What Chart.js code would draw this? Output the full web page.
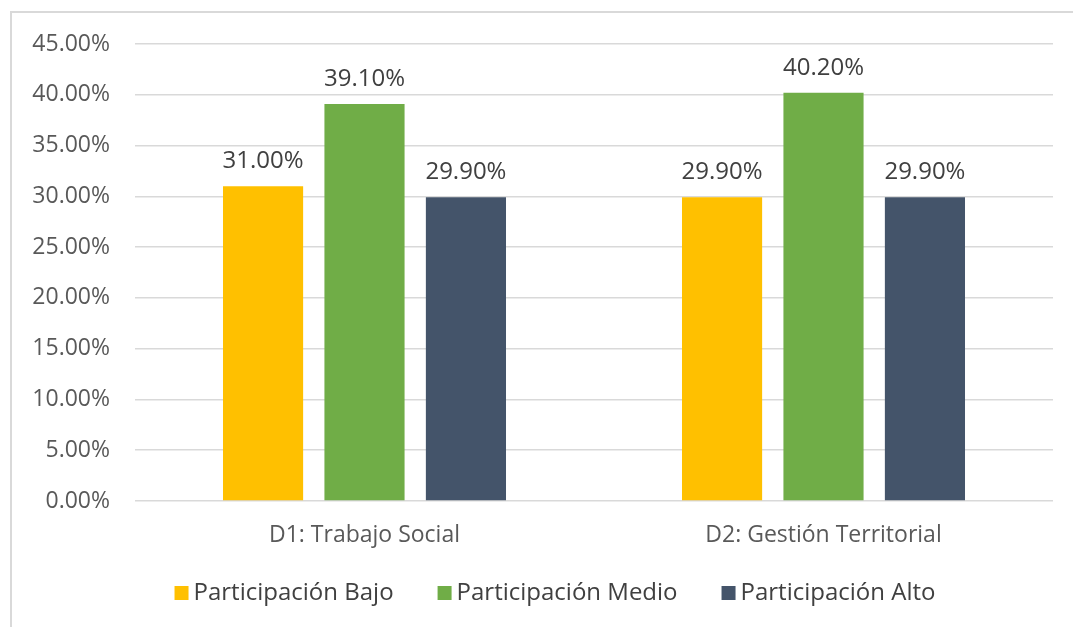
<!DOCTYPE html>
<html>
<head>
<meta charset="utf-8">
<script src="https://cdn.jsdelivr.net/npm/chart.js@4"></script>
<style>
  html, body { margin: 0; padding: 0; background: #fff; overflow: hidden; }
  #frame { position: absolute; left: 10px; top: 11px; width: 1100px; height: 700px;
           border-left: 2px solid #D9D9D9; border-top: 2px solid #D9D9D9; }
  #wrap { position: absolute; left: 0; top: 0; width: 1073px; height: 627px; }
</style>
</head>
<body>
<div id="frame"></div>
<div id="wrap"><canvas id="myChart" width="1073" height="627"></canvas></div>
<script>
var categories = ['D1: Trabajo Social', 'D2: Gestión Territorial'];
var seriesNames = ['Participación Bajo', 'Participación Medio', 'Participación Alto'];
var bajo = [31.0, 29.9];
var medio = [39.1, 40.2];
var alto = [29.9, 29.9];
var yTicks = [0, 5, 10, 15, 20, 25, 30, 35, 40, 45];
var colors = ['#FFC000', '#70AD47', '#44546A'];

var FONT = "'Open Sans', sans-serif";

// value labels above each bar
var barLabels = {
  id: 'barLabels',
  afterDatasetsDraw: function(chart) {
    var ctx = chart.ctx;
    ctx.save();
    ctx.font = '24px ' + FONT;
    ctx.fillStyle = '#404040';
    ctx.textAlign = 'center';
    ctx.textBaseline = 'middle';
    chart.data.datasets.forEach(function(ds, i) {
      chart.getDatasetMeta(i).data.forEach(function(bar, j) {
        ctx.fillText(ds.data[j].toFixed(2) + '%', bar.x, bar.y - 25);
      });
    });
    ctx.restore();
  }
};

// legend drawn like the Excel one (wide gaps between items)
var excelLegend = {
  id: 'excelLegend',
  afterDraw: function(chart) {
    var ctx = chart.ctx;
    var box = 14, gapText = 5, gapItem = 44;
    ctx.save();
    ctx.font = '24px ' + FONT;
    ctx.textBaseline = 'middle';
    var items = chart.data.datasets.map(function(ds) {
      return { label: ds.label, color: ds.backgroundColor, w: ctx.measureText(ds.label).width };
    });
    var total = 0;
    items.forEach(function(it, i) { total += box + gapText + it.w + (i ? gapItem : 0); });
    var x = 555 - total / 2, y = 593;
    items.forEach(function(it) {
      ctx.fillStyle = it.color;
      ctx.fillRect(x, y - box / 2, box, box);
      ctx.fillStyle = '#404040';
      ctx.fillText(it.label, x + box + gapText, y);
      x += box + gapText + it.w + gapItem;
    });
    ctx.restore();
  }
};

var ctx = document.getElementById('myChart');
var chart = new Chart(ctx, {
  type: 'bar',
  data: {
    labels: categories,
    datasets: [
      { label: seriesNames[0], data: bajo, backgroundColor: colors[0] },
      { label: seriesNames[1], data: medio, backgroundColor: colors[1] },
      { label: seriesNames[2], data: alto, backgroundColor: colors[2] }
    ]
  },
  options: {
    responsive: false,
    animation: false,
    categoryPercentage: 0.663,
    barPercentage: 0.79,
    layout: { padding: { left: 10, top: 44, right: 20, bottom: 55 } },
    plugins: {
      legend: { display: false },
      tooltip: { enabled: false }
    },
    scales: {
      x: {
        grid: { display: false, drawTicks: false },
        border: { display: false },
        ticks: { color: '#595959', font: { family: FONT, size: 23 }, padding: 21 },
        afterFit: function(scale) { scale.height = 71; }
      },
      y: {
        min: 0,
        max: 45,
        afterBuildTicks: function(scale) {
          scale.ticks = yTicks.map(function(v) { return { value: v }; });
        },
        grid: { color: '#D9D9D9', lineWidth: 1.5, drawTicks: false },
        border: { display: false },
        ticks: {
          color: '#595959',
          font: { family: FONT, size: 23 },
          padding: 25,
          callback: function(v) { return v.toFixed(2) + '%'; }
        },
        afterFit: function(scale) { scale.width = 125; }
      }
    }
  },
  plugins: [barLabels, excelLegend]
});
</script>
</body>
</html>
